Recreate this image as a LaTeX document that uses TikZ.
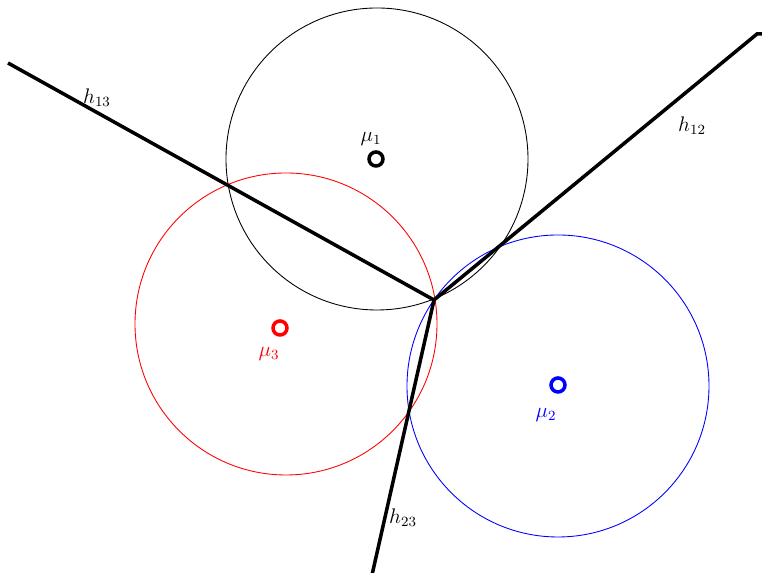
\documentclass[tikz,border=0pt]{standalone}
\usetikzlibrary{positioning}
\tikzset{
  region/.style args={#1}{
    draw=#1,
    line width=0.5pt
  },
  meanpt/.style args={#1}{
    circle,
    draw=#1,
    line width=2pt,
    minimum size=0.28cm,
    inner sep=0pt
  },
  meanlbl/.style args={#1}{
    text=#1,
    inner sep=1pt,
    font=\large
  },
  boundary/.style={
    line width=2pt,
    draw=black,
    line join=miter
  },
  hlbl/.style={
    font=\large
  }
}
\begin{document}
\begin{tikzpicture}[x=0.02cm,y=0.02cm]
\useasboundingbox (0,0) rectangle (762,573);

\draw[region=black] (377,414) circle [radius=151];
\draw[region=red] (286,249) circle [radius=151];
\draw[region=blue] (558,187) circle [radius=151];

\node[meanpt=black] (mu1) at (376,414) {};
\node[meanpt=red] (mu3) at (280,245) {};
\node[meanpt=blue] (mu2) at (558,188) {};

\node[meanlbl=black] (mu1lbl) at (371,434) {$\mu_1$};
\node[meanlbl=red] (mu3lbl) at (269,219) {$\mu_3$};
\node[meanlbl=blue] (mu2lbl) at (546,158) {$\mu_2$};

\coordinate (meet) at (434,273);
\coordinate (end13) at (8,510);
\coordinate (end12) at (757,539);
\coordinate (stub12) at (762,539);
\coordinate (end23) at (372,-2);

\draw[boundary] (end13) -- (meet);
\draw[boundary] (meet) -- (end12) -- (stub12);
\draw[boundary] (meet) -- (end23);

\node[hlbl] (h13) at (97,475) {$h_{13}$};
\node[hlbl] (h12) at (692,447) {$h_{12}$};
\node[hlbl] (h23) at (403,55) {$h_{23}$};

\end{tikzpicture}
\end{document}
